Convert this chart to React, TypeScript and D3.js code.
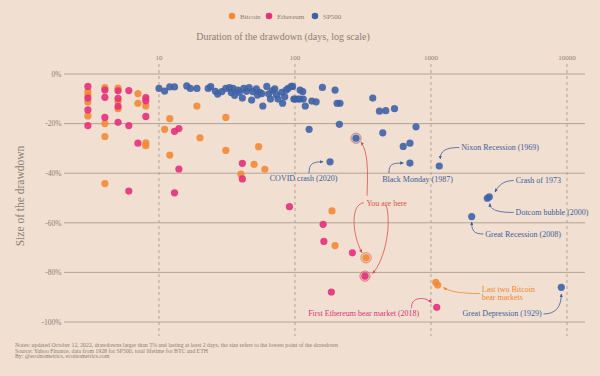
import React from "react";
import * as d3 from "d3";

const W = 600;
const H = 376;

const seriesNames = ["Bitcoin", "Ethereum", "SP500"];
const seriesColors = ["#f28a35", "#e5307a", "#3e62a6"];

// [duration in days, drawdown %]
const bitcoin: [number, number][] = [
  [3, -7.1], [3, -8.5], [3, -11.3], [3, -16.9],
  [4, -5.5], [4, -20.0], [4, -25.2], [4, -44.2],
  [5, -5.7], [5, -11.0], [5, -14.0],
  [7, -7.9], [7, -11.8],
  [8, -12.9], [8, -27.8], [8, -28.9],
  [11, -22.3], [12, -18.0], [12, -32.7], [19, -12.9], [20, -25.7],
  [31, -17.5], [31, -30.8], [40, -40.4], [50, -36.4], [54, -29.3], [60, -38.4],
  [187, -55.2], [197, -69.2], [333, -74.1], [1084, -84.0], [1120, -85.1],
];

const ethereum: [number, number][] = [
  [3, -5.0], [3, -9.7], [3, -14.5], [3, -20.8],
  [4, -6.5], [4, -9.4], [4, -17.5],
  [5, -6.8], [5, -9.8], [5, -13.0], [5, -19.5],
  [6, -6.7], [6, -20.8], [6, -47.2],
  [7, -27.9],
  [8, -9.5], [8, -10.8], [8, -17.1],
  [13, -23.1], [14, -22.0], [14, -38.3], [13, -47.9],
  [41, -36.0], [41, -42.3], [91, -53.5], [161, -60.6], [163, -67.5],
  [264, -72.1], [327, -81.5], [185, -87.9], [1102, -94.1],
];

const sp500: [number, number][] = [
  [10, -5.8], [11, -6.9], [12, -5.2], [13, -5.2], [16, -4.8], [17, -5.8], [19, -5.8],
  [23, -5.8], [24, -5.1], [26, -7.0], [27, -8.1], [29, -7.1], [31, -5.8], [33, -5.5],
  [34, -7.5], [35, -5.8], [36, -8.6], [38, -6.5], [39, -7.4], [41, -9.7], [42, -5.8],
  [44, -7.0], [46, -5.5], [48, -10.5], [49, -7.1], [52, -6.0], [53, -8.5], [55, -7.4],
  [57, -7.9], [58, -12.9], [62, -5.0], [64, -8.0], [66, -10.1], [68, -6.8], [71, -6.0],
  [73, -8.4], [75, -10.1], [80, -7.4], [81, -11.8], [84, -9.2], [86, -6.5], [89, -5.8],
  [94, -5.0], [96, -5.0], [98, -10.1], [100, -10.1], [105, -10.1], [109, -6.5],
  [109, -10.1], [114, -7.1], [115, -10.1], [119, -12.9], [133, -10.9], [143, -11.2],
  [159, -5.4], [197, -6.5], [204, -11.8], [214, -11.8], [212, -20.3], [127, -22.3],
  [181, -35.4], [281, -25.9], [373, -9.7], [418, -15.0], [465, -14.8], [539, -14.0],
  [442, -23.7], [776, -21.3], [625, -29.2], [700, -27.9], [700, -35.9], [1150, -37.1],
  [2594, -50.1], [2684, -49.5], [1991, -57.5], [9080, -86.0],
];

const seriesData = [bitcoin, ethereum, sp500];

// current drawdowns ("You are here")
const current: [number, number, number][] = [
  [0, 333, -74.1],
  [1, 327, -81.5],
  [2, 281, -25.9],
];

const xTicks = [10, 100, 1000, 10000];
const yTicks = [0, -20, -40, -60, -80, -100];

const notes = [
  "Notes: updated October 12, 2022, drawdowns larger than 5% and lasting at least 2 days, the size refers to the lowest point of the drawdown",
  "Source: Yahoo Finance, data from 1928 for SP500, total lifetime for BTC and ETH",
  "By: @ecoinometrics, ecoinometrics.com",
];

const FONT = "'Liberation Serif', 'DejaVu Serif', serif";
const BG = "#f1e0d1";
const GREY = "#8c7d73";
const GRID = "#a99d93";
const BLUE_T = "#3e5d99";
const ORANGE_T = "#f0872c";
const PINK_T = "#e0307a";
const RED_T = "#d8524c";

export default function App() {
  const x = d3.scaleLog().domain([10, 10000]).range([159, 567]);
  const y = d3.scaleLinear().domain([0, -100]).range([74, 322]);
  const r = 3.6;

  const P = (d: number, p: number) => [x(d), y(p)];

  // annotation anchors
  const [cvx, cvy] = P(181, -35.4);
  const [bmx, bmy] = P(700, -35.9);
  const [nxx, nxy] = P(1150, -37.1);
  const [c73x, c73y] = P(2594, -50.1);
  const [dcx, dcy] = P(2684, -49.5);
  const [grx, gry] = P(1991, -57.5);
  const [gdx, gdy] = P(9080, -86.0);
  const [lbx, lby] = P(1084, -84.0);
  const [fex, fey] = P(1102, -94.1);
  const [yox, yoy] = P(333, -74.1);
  const [ypx, ypy] = P(327, -81.5);
  const [ybx, yby] = P(281, -25.9);

  const arrows = [
    { c: BLUE_T, d: `M${cvx - 21},${cvy + 11.5} C${cvx - 21},${cvy + 2} ${cvx - 18},${cvy} ${cvx - 7},${cvy}` },
    { c: BLUE_T, d: `M${bmx - 21},${bmy + 10} C${bmx - 21},${bmy + 1} ${bmx - 18},${bmy} ${bmx - 6.5},${bmy}` },
    { c: BLUE_T, d: `M${nxx + 20},${nxy - 18.5} C${nxx + 6},${nxy - 18.5} ${nxx + 1},${nxy - 15} ${nxx + 1},${nxy - 7}` },
    { c: BLUE_T, d: `M${c73x + 26.5},${c73y - 17.7} C${c73x + 15},${c73y - 17.7} ${c73x + 11},${c73y - 12} ${c73x + 7.7},${c73y - 6.2}` },
    { c: BLUE_T, d: `M${dcx + 24.5},${dcy + 15.7} C${dcx + 8},${dcy + 15.7} ${dcx + 0.6},${dcy + 13} ${dcx + 0.6},${dcy + 6.7}` },
    { c: BLUE_T, d: `M${grx + 11.8},${gry + 17.4} C${grx + 2},${gry + 17.4} ${grx},${gry + 14} ${grx},${gry + 5.4}` },
    { c: BLUE_T, d: `M${gdx - 17.8},${gdy + 26.7} C${gdx - 5},${gdy + 26.7} ${gdx},${gdy + 19} ${gdx},${gdy + 6.7}` },
    { c: ORANGE_T, d: `M${lbx + 44},${lby + 11.2} C${lbx + 26},${lby + 11.2} ${lbx + 14},${lby + 9.5} ${lbx + 7.7},${lby + 5.2}` },
    { c: PINK_T, d: `M${fex - 25},${fey + 1} C${fex - 27},${fey - 10} ${fex - 12},${fey - 11.5} ${fex - 5.3},${fey - 4.9}` },
    { c: RED_T, d: `M${yox - 2},${yoy - 55} C${yox - 16},${yoy - 54} ${yox - 14},${yoy - 23} ${yox - 4},${yoy - 5}` },
    { c: RED_T, d: `M${yox + 20},${yoy - 53} C${yox + 26},${yoy - 33} ${ypx + 20},${ypy - 16} ${ypx + 7.5},${ypy - 2.6}` },
    { c: RED_T, d: `M${ybx + 11},${yoy - 62} C${ybx + 12},${yby + 32} ${ybx + 12},${yby + 14} ${ybx + 5},${yby + 3.8}` },
  ];

  const labels = [
    { t: "COVID crash (2020)", x: cvx - 26.5, y: cvy + 19, a: "middle", c: BLUE_T },
    { t: "Black Monday (1987)", x: bmx + 7.6, y: bmy + 19, a: "middle", c: BLUE_T },
    { t: "Nixon Recession (1969)", x: nxx + 22, y: nxy - 16, a: "start", c: BLUE_T },
    { t: "Crash of 1973", x: c73x + 28.4, y: c73y - 15, a: "start", c: BLUE_T },
    { t: "Dotcom bubble (2000)", x: dcx + 26.3, y: dcy + 18, a: "start", c: BLUE_T },
    { t: "Great Recession (2008)", x: grx + 13.6, y: gry + 20.4, a: "start", c: BLUE_T },
    { t: "Great Depression (1929)", x: gdx - 19.6, y: gdy + 28.7, a: "end", c: BLUE_T },
    { t: "Last two Bitcoin", x: lbx + 46, y: lby + 9.7, a: "start", c: ORANGE_T },
    { t: "bear markets", x: lbx + 46, y: lby + 17.2, a: "start", c: ORANGE_T },
    { t: "First Ethereum bear market (2018)", x: fex - 17.5, y: fey + 8.6, a: "end", c: PINK_T },
    { t: "You are here", x: yox + 20.6, y: yoy - 51.8, a: "middle", c: RED_T },
  ];

  const colorIds = [BLUE_T, ORANGE_T, PINK_T, RED_T];

  return (
    <svg
      width={W}
      height={H}
      style={{ position: "absolute", left: 0, top: 0, background: BG }}
      fontFamily={FONT}
    >
      <defs>
        {colorIds.map((c, i) => (
          <marker
            key={i}
            id={`ah${i}`}
            viewBox="0 0 6 6"
            refX="5"
            refY="3"
            markerWidth="5"
            markerHeight="5"
            orient="auto"
          >
            <path d="M0,0.5 L5.5,3 L0,5.5 Z" fill={c} />
          </marker>
        ))}
      </defs>
      <rect x={0} y={0} width={W} height={H} fill={BG} />

      {/* legend */}
      {seriesNames.map((n, i) => {
        const lx = [232, 269, 315][i];
        return (
          <g key={n}>
            <circle cx={lx} cy={16} r={3.3} fill={seriesColors[i]} />
            <text x={lx + 8} y={18.5} fontSize={7} fill={GREY}>
              {n}
            </text>
          </g>
        );
      })}

      {/* x title */}
      <text x={283} y={40} fontSize={10} fill={GREY} textAnchor="middle">
        Duration of the drawdown (days, log scale)
      </text>

      {/* y title */}
      <text
        transform={`translate(24,196) rotate(-90)`}
        fontSize={11.5}
        fill={GREY}
        textAnchor="middle"
      >
        Size of the drawdown
      </text>

      {/* horizontal grid */}
      {yTicks.map((t) => (
        <g key={t}>
          <line x1={64} x2={585} y1={y(t)} y2={y(t)} stroke={GRID} strokeWidth={0.9} />
          <text x={61.5} y={y(t) + 2.7} fontSize={7.5} fill={GREY} textAnchor="end">
            {`${t}%`}
          </text>
        </g>
      ))}

      {/* vertical dashed lines */}
      {xTicks.map((t) => (
        <g key={t}>
          <line
            x1={x(t)}
            x2={x(t)}
            y1={64}
            y2={336}
            stroke={GRID}
            strokeWidth={0.9}
            strokeDasharray="3,3"
          />
          <text x={x(t)} y={60} fontSize={7} fill={GREY} textAnchor="middle">
            {t}
          </text>
        </g>
      ))}

      {/* points */}
      {seriesData.map((arr, si) => (
        <g key={si}>
          {arr.map(([d, p], i) => (
            <circle
              key={i}
              cx={x(d)}
              cy={y(p)}
              r={r}
              fill={seriesColors[si]}
              fillOpacity={0.9}
            />
          ))}
        </g>
      ))}

      {/* current drawdown halos */}
      {current.map(([si, d, p], i) => (
        <circle
          key={i}
          cx={x(d)}
          cy={y(p)}
          r={5.2}
          fill={seriesColors[si]}
          fillOpacity={0.25}
          stroke={RED_T}
          strokeOpacity={0.55}
          strokeWidth={1}
        />
      ))}

      {/* arrows */}
      {arrows.map((a, i) => (
        <path
          key={i}
          d={a.d}
          fill="none"
          stroke={a.c}
          strokeWidth={0.8}
          markerEnd={`url(#ah${colorIds.indexOf(a.c)})`}
        />
      ))}

      {/* labels */}
      {labels.map((l, i) => (
        <text
          key={i}
          x={l.x}
          y={l.y}
          fontSize={8}
          fill={l.c}
          textAnchor={l.a as any}
        >
          {l.t}
        </text>
      ))}

      {/* notes */}
      {notes.map((n, i) => (
        <text key={i} x={15} y={347 + i * 5.5} fontSize={5.8} fill={GREY}>
          {n}
        </text>
      ))}
    </svg>
  );
}
